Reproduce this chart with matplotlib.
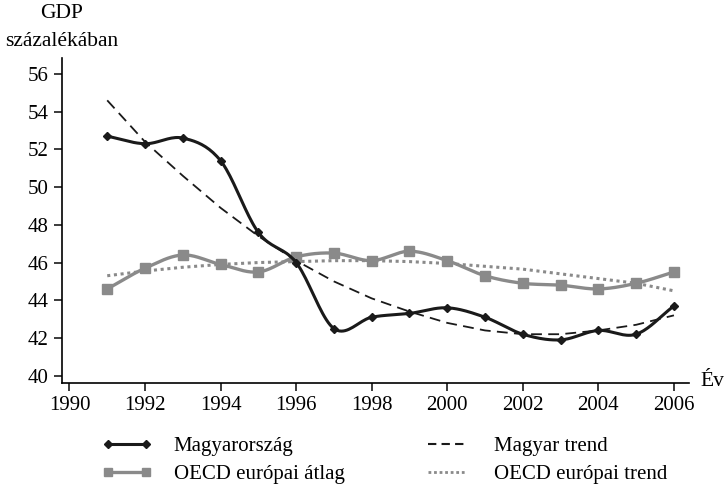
import numpy as np
import matplotlib
matplotlib.use("Agg")
import matplotlib.pyplot as plt
from matplotlib.lines import Line2D

plt.rcParams["font.family"] = ["Liberation Serif", "DejaVu Serif"]

years = [1991, 1992, 1993, 1994, 1995, 1996, 1997, 1998,
         1999, 2000, 2001, 2002, 2003, 2004, 2005, 2006]
hungary = [52.7, 52.3, 52.6, 51.4, 47.6, 46.0, 42.5, 43.1,
           43.3, 43.6, 43.1, 42.2, 41.9, 42.4, 42.2, 43.7]
oecd = [44.6, 45.7, 46.4, 45.9, 45.5, 46.3, 46.5, 46.1,
        46.6, 46.1, 45.3, 44.9, 44.8, 44.6, 44.9, 45.5]
hungary_trend = [54.6, 52.4, 50.6, 48.9, 47.4, 46.1, 45.0, 44.1,
                 43.4, 42.8, 42.4, 42.2, 42.2, 42.4, 42.7, 43.2]
oecd_trend = [45.3, 45.55, 45.75, 45.9, 46.0, 46.05, 46.1, 46.1,
              46.05, 45.95, 45.8, 45.65, 45.4, 45.15, 44.9, 44.5]


def smooth(xs, ys, n=20):
    # catmull-rom, like excel "smoothed line"
    x = np.asarray(xs, float); y = np.asarray(ys, float)
    px = np.concatenate([[2 * x[0] - x[1]], x, [2 * x[-1] - x[-2]]])
    py = np.concatenate([[2 * y[0] - y[1]], y, [2 * y[-1] - y[-2]]])
    ox, oy = [], []
    t = np.linspace(0, 1, n, endpoint=False)
    for i in range(1, len(px) - 2):
        for arr, out in ((px, ox), (py, oy)):
            p0, p1, p2, p3 = arr[i - 1], arr[i], arr[i + 1], arr[i + 2]
            out.extend(0.5 * (2 * p1 + (-p0 + p2) * t + (2 * p0 - 5 * p1 + 4 * p2 - p3) * t**2
                              + (-p0 + 3 * p1 - 3 * p2 + p3) * t**3))
    ox.append(x[-1]); oy.append(y[-1])
    return np.array(ox), np.array(oy)


fig = plt.figure(figsize=(7.28, 4.91), dpi=100)
ax = fig.add_axes([0.0845, 0.2206, 0.862, 0.6607])

gray = "#8a8a8a"
sx, sy = smooth(years, oecd)
ax.plot(sx, sy, color=gray, lw=2.4, zorder=2)
ax.plot(years, oecd, ls="none", marker="s", ms=7, color=gray, zorder=3)
ax.plot(years, oecd_trend, color=gray, lw=2.2, ls=(0, (1, 1.2)), zorder=2)

ax.plot(years, hungary_trend, color="#1a1a1a", lw=1.3, ls=(0, (6, 3.5)), zorder=4)
sx, sy = smooth(years, hungary)
ax.plot(sx, sy, color="#1a1a1a", lw=2.2, zorder=5)
ax.plot(years, hungary, ls="none", marker="D", ms=4.5, color="#1a1a1a", zorder=6)

ax.set_xlim(1989.79, 2006.4)
ax.set_ylim(39.63, 56.83)
ax.set_xticks(range(1990, 2007, 2))
ax.set_yticks(range(40, 57, 2))
ax.spines["top"].set_visible(False)
ax.spines["right"].set_visible(False)
for s in ("left", "bottom"):
    ax.spines[s].set_linewidth(1.2)
ax.tick_params(direction="out", length=6, width=1.2, labelsize=15, color="#1a1a1a")

fig.text(62 / 728, 1 - 14 / 491, "GDP", ha="center", va="center", fontsize=15.5)
fig.text(62 / 728, 1 - 41 / 491, "százalékában", ha="center", va="center", fontsize=15.5)
fig.text(700 / 728, 1 - 382 / 491, "Év", ha="left", va="center", fontsize=15.5)

handles = [
    Line2D([], [], color="#1a1a1a", lw=2.2, marker="D", ms=4),
    Line2D([], [], color=gray, lw=2.4, marker="s", ms=6),
    Line2D([], [], color="#1a1a1a", lw=1.5, ls=(0, (4, 2.5))),
    Line2D([], [], color=gray, lw=2.0, ls=(0, (1, 1.0))),
]
labels = ["Magyarország", "OECD európai átlag", "Magyar trend", "OECD európai trend"]
fig.legend(handles, labels, ncol=2, loc="center left", bbox_to_anchor=(102 / 728, 0.062),
           frameon=False, fontsize=15, handlelength=2.4, handletextpad=1.05,
           columnspacing=3.7, labelspacing=0.4, numpoints=2,
           borderpad=0, borderaxespad=0)

fig.savefig("out.png", dpi=100)
